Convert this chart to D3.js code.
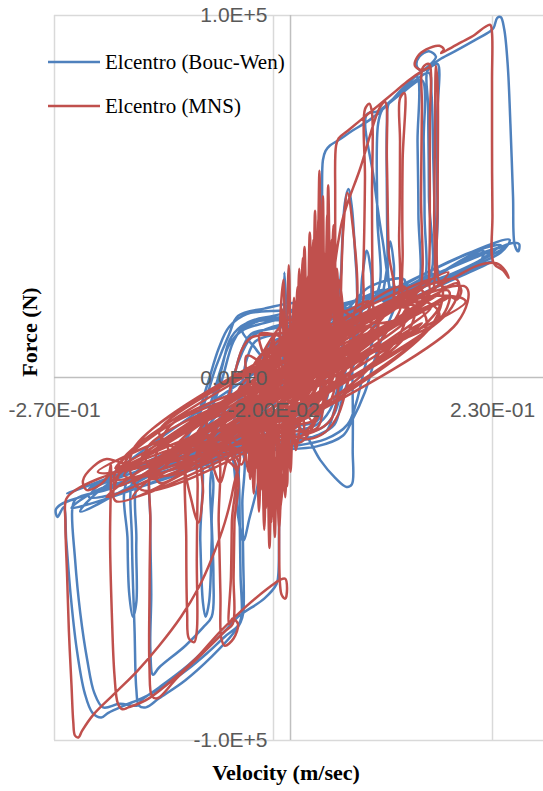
<!DOCTYPE html>
<html>
<head>
<meta charset="utf-8">
<script src="https://cdn.jsdelivr.net/npm/d3@7"></script>
<style>
  body { margin: 0; background: #fff; }
  svg { display: block; }
</style>
</head>
<body>
<div id="chart"></div>
<script>
// axis ticks (velocity in m/sec, force in kN)
const xTicks = [-0.27, -0.02, 0.23];
const xTickLabels = ["-2.70E-01", "-2.00E-02", "2.30E-01"];
const yTicks = [-100, 0, 100];
const yTickLabels = ["-1.0E+5", "0.0E+0", "1.0E+5"];
const seriesNames = ["Elcentro (Bouc-Wen)", "Elcentro (MNS)"];

// [velocity, force kN]
const boucWen = [
  [0.000,-2],[0.020,6],[0.040,12],[0.060,15],[0.050,8],[0.035,-3],[0.020,-9],[0.000,-11],[-0.030,-12],[-0.060,-14],
  [-0.045,-5],[-0.035,5],[-0.020,10],[0.010,12],[0.040,14],[0.060,15.5],
  [0.090,20],[0.080,14],[0.060,2],[0.045,-9],[0.030,-13],[0.000,-15],[-0.040,-16],[-0.090,-18],
  [-0.075,-8],[-0.060,4],[-0.045,11],[-0.020,14],[0.020,16],[0.060,18],
  [0.100,23],[0.120,25],[0.110,20],[0.080,8],[0.060,-5],[0.050,-13],[0.030,-16],[0.000,-18],[-0.040,-19],[-0.080,-20],[-0.120,-21],
  [-0.100,-14],[-0.080,-2],[-0.065,10],[-0.050,15],[-0.020,17],[0.020,19],[0.035,20],
  [0.050,19],[0.080,21],[0.075,12],[0.060,0],[0.050,-9],[0.040,-15],[0.010,-17],[-0.030,-18],[-0.070,-19],[-0.110,-19],
  [-0.095,-10],[-0.080,2],[-0.070,9],[-0.055,13],[-0.030,15],[0.010,17],[0.050,17],[0.065,15],[0.050,3],[0.040,-7],
  [0.030,-12],[0.000,-13.5],[-0.040,-14.5],[-0.085,-17],[-0.070,-6],[-0.058,6],[-0.045,12],[-0.020,13.5],[0.020,15],
  [0.060,18],[0.090,25],[0.130,27],[0.120,20],[0.100,8],[0.085,-4],[0.070,-12],[0.060,-16],[0.030,-19],[-0.020,-20],
  [-0.080,-21.5],[-0.140,-23],[-0.120,-17],[-0.100,-8],[-0.085,3],[-0.070,12],[-0.060,17],[-0.030,19],[0.010,20],
  [-0.130,-22],[-0.110,-13],[-0.095,-2],[-0.082,8],[-0.070,14],[-0.050,17.5],[-0.010,18.5],[0.030,19],[0.070,21],[0.110,24],
  [0.100,15],[0.085,3],[0.075,-7],[0.065,-13],[0.040,-17],[0.000,-19],[-0.050,-20],[-0.100,-21],
  [-0.070,-15],[-0.058,-5],[-0.050,5],[-0.040,10],[-0.015,12],[0.020,13],[0.045,14],[0.040,4],[0.032,-6],[0.020,-11],[-0.010,-12],[-0.040,-13],
  [-0.105,-19],[-0.090,-9],[-0.078,3],[-0.068,11],[-0.050,15],[0.000,16],[0.040,17.5],[0.075,19],[0.070,10],[0.060,-1],[0.050,-10],[0.035,-14],[0.000,-16],[-0.050,-17.5],[-0.105,-20],
  [0.030,12],[0.250,38],[0.240,34.5],[0.040,14.5],[0.050,12.5],[0.220,35],[0.210,30],[0.060,19],[0.070,15],[0.240,36.5],[0.200,34],[0.040,11],
  [-0.040,-15],[-0.250,-36],[-0.220,-31],[-0.050,-19],[-0.060,-16],[-0.240,-37],[-0.200,-28],[-0.040,-13],[-0.030,-16],[-0.230,-33],
  [0.060,17],[0.090,20.5],[0.125,24],[0.150,27],[0.180,30],[0.210,33],[0.235,35.5],[0.255,37.2],[0.261,36.8],[0.260,34.8],[0.256,36.5],
  [0.254,50],[0.251,70],[0.248,86],[0.244,96],[0.240,99.4],[0.236,99.2],[0.232,96.5],[0.228,95.5],
  [0.210,93],[0.190,90.3],[0.172,88],[0.160,86],[0.150,84.5],[0.144,86],[0.147,88.5],[0.158,90],[0.166,88.5],[0.158,86],
  [0.140,82.5],[0.125,79],[0.110,75],[0.090,71],[0.070,68],[0.055,65.5],[0.045,64],[0.040,62.5],[0.037,60],[0.036,50],[0.036,35],[0.037,20],[0.036,12],[0.030,4],[0.015,-6],
  [0.000,-12],[0.014,-14.5],[0.034,-22.8],[0.051,-27.7],[0.064,-30.2],[0.070,-29.5],[0.071,-20],[0.071,-6],[0.070,5],[0.068,10],[0.080,19],
  [0.110,22],[0.140,26],[0.163,28.5],[0.166,27],[0.165,40],[0.163,60],[0.161,78],[0.158,84],[0.140,81.5],[0.120,77.5],[0.112,75.5],[0.110,70],[0.110,50],[0.111,30],[0.112,22],
  [0.106,21],[0.110,30],[0.114,37.5],[0.118,31],[0.120,22],
  [0.140,25],[0.152,26.5],[0.153,45],[0.152,65],[0.150,82],[0.130,79],[0.100,73.5],[0.087,72.5],[0.095,55],[0.105,38],[0.119,21.5],
  [0.130,23],[0.145,25],[0.146,45],[0.145,65],[0.144,83],[0.125,78.5],[0.105,74],[0.100,70],[0.099,45],[0.100,24],
  [0.080,19],[0.075,30],[0.070,47],[0.066,52],[0.062,48],[0.058,30],[0.057,18],
  [0.075,17],[0.082,28],[0.087,35],[0.092,29],[0.096,19],
  [0.130,25],[0.158,27.5],[0.158,50],[0.157,75],[0.156,84.5],[0.162,86],[0.168,86.5],[0.167,70],[0.168,45],[0.170,29],[0.190,31.5],[0.220,34.5],[0.245,36],
  [0.210,31.5],[0.170,27],[0.130,22.5],[0.090,18],[0.050,12],[0.020,5],[0.000,-3],
  [0.040,10],[0.100,19],[0.160,26],[0.200,29.5],[0.230,32],[0.190,27.5],[0.140,22],[0.080,15],[0.030,6],
  [-0.005,0],[-0.007,15],[-0.007,29],[-0.005,20],[-0.004,5],
  [-0.020,-8],[-0.060,-17],[-0.100,-21.5],[-0.150,-25.5],[-0.200,-30],[-0.240,-33],[-0.262,-35],[-0.268,-36.5],[-0.266,-38.5],[-0.259,-35.8],
  [-0.256,-45],[-0.251,-60],[-0.244,-75],[-0.235,-87],[-0.226,-92.5],[-0.216,-93.8],[-0.208,-92.5],
  [-0.190,-90.5],[-0.170,-88.5],[-0.150,-86],[-0.120,-81],[-0.095,-76],[-0.075,-71.5],[-0.060,-68.5],[-0.056,-66],[-0.057,-55],[-0.058,-40],[-0.059,-28],[-0.062,-22],
  [-0.100,-23],[-0.160,-27],[-0.210,-31],[-0.245,-33.5],[-0.249,-36],[-0.246,-50],[-0.240,-65],[-0.232,-78],[-0.224,-87],[-0.214,-91],
  [-0.195,-90],[-0.175,-90.5],[-0.170,-89],[-0.150,-85.5],[-0.120,-80],[-0.095,-74.5],[-0.075,-70],[-0.060,-66],[-0.030,-61],[-0.016,-57],[-0.014,-54.5],[-0.013,-40],[-0.012,-25],[-0.010,-12],
  [-0.050,-17],[-0.120,-23],[-0.170,-27],[-0.180,-28.5],[-0.181,-45],[-0.178,-70],[-0.176,-86],[-0.173,-90.5],[-0.165,-91],[-0.150,-88.5],[-0.120,-83.5],[-0.090,-77],[-0.065,-70.5],[-0.057,-67.5],[-0.054,-65],[-0.054,-50],[-0.055,-35],[-0.057,-20],
  [-0.100,-20],[-0.140,-24],[-0.158,-26],[-0.160,-40],[-0.159,-60],[-0.160,-75],[-0.157,-82],[-0.150,-80],[-0.120,-74],[-0.100,-69],[-0.090,-66],[-0.088,-55],[-0.090,-40],[-0.092,-25],
  [-0.120,-22],[-0.185,-28],[-0.186,-45],[-0.184,-60],[-0.180,-66],[-0.176,-62],[-0.176,-45],[-0.172,-28],
  [-0.130,-24],[-0.105,-22],[-0.103,-45],[-0.100,-62],[-0.097,-66],[-0.093,-62],[-0.090,-45],[-0.088,-24],
  [-0.070,-20],[-0.060,-38],[-0.054,-45],[-0.048,-40],[-0.038,-22],
  [-0.080,-19],[-0.140,-23],[-0.200,-28],[-0.230,-30.5],[-0.180,-25],[-0.120,-19.5],[-0.060,-13],[-0.010,-4],
  [-0.060,-15],[-0.150,-22.5],[-0.255,-32],[-0.200,-27],[-0.100,-17],[-0.040,-10],
  [-0.020,0],[-0.040,8],[-0.055,13],[-0.030,16],[0.010,17],[0.050,19],[0.020,8],[0.000,-5]
];

const mns = [
  [0.000,-1],[-0.030,-4],[-0.070,-17],[-0.055,-8],[-0.045,2],[-0.030,7],[0.000,9],[0.030,11],[0.060,14],[0.050,5],[0.040,-5],[0.025,-12],[0.000,-13],[-0.040,-15],[-0.070,-17],
  [-0.100,-20],[-0.080,-12],[-0.065,0],[-0.055,8],[-0.045,11],[-0.020,12],[0.010,13],[0.040,16],[0.070,19],[0.090,21],[0.085,15],[0.070,3],[0.055,-10],[0.040,-15],[0.020,-17],[0.000,-16],[-0.030,-17],[-0.070,-19],[-0.100,-21],
  [-0.160,-24],[0.150,20],[0.150,24],[-0.150,-18],[-0.170,-22],[0.130,21],[0.160,22],[-0.130,-20],[-0.180,-27],[0.170,23],[0.120,16],[-0.120,-16],[-0.140,-23],[0.140,18],[0.100,19],[-0.100,-13],[-0.110,-19],[0.110,14],
  [-0.180,-29],[0.140,20],[0.155,14],[-0.150,-27],[-0.165,-20],[0.120,15],[0.135,22],[-0.120,-24],[-0.140,-18],[0.160,19],[0.110,10],[-0.100,-20],
  [-0.130,-26],[0.090,14],[0.100,6],[-0.080,-21],[-0.095,-12],[0.125,20],[0.080,4],[-0.060,-18],[-0.075,-9],[0.070,13],[0.060,1],[-0.050,-15],
  [-0.040,-4],[0.050,10],[0.040,-2],[-0.070,-20],[-0.090,-15],[0.150,21],[0.170,17],[-0.110,-22],[-0.200,-28],[0.100,15],[0.085,9],[-0.085,-17],
  [-0.065,-13],[0.065,8],[0.075,16],[-0.045,-10],[-0.030,-12],[0.095,11],[0.180,22],[-0.150,-22],
  [-0.210,-33],[0.180,18],[0.190,27],[-0.190,-22],[-0.200,-30],[0.170,26],[0.160,14],[-0.170,-31],[-0.180,-20],[0.150,22],[0.200,21],[-0.220,-26],
  [-0.160,-24],[0.130,11],[0.140,24],[-0.150,-29],[-0.140,-14],[0.170,16],[0.180,24],[-0.130,-25],[-0.190,-27],[0.120,19],[0.160,27],[-0.170,-17],
  [-0.200,-34],[0.110,8],[0.150,15],[-0.120,-20],[-0.150,-15],[0.200,25],[0.190,15],[-0.180,-33],[-0.110,-18],[0.130,25],[0.120,10],[-0.160,-28],
  [-0.140,-21],[0.170,20],[0.140,12],[-0.130,-12],[-0.200,-25],[0.180,29],[0.110,13],[-0.100,-22],
  [-0.060,-12],[0.050,12],[0.040,-8],[-0.050,6],[-0.020,-14],[0.060,3],[0.010,15],[-0.040,-10],[0.030,-14],[0.020,14],[-0.060,-4],[0.050,8],
  [-0.010,-12],[0.000,12],[-0.030,2],[0.040,16],[0.045,-12],[-0.045,-16],[-0.015,10],[0.060,10],[0.025,-6],[-0.055,-14],[0.010,6],[-0.025,-16],
  [0.035,4],[-0.035,12],[0.015,-15],[-0.005,8],
  [-0.050,-18],[-0.030,5],[-0.045,-6],[-0.020,-16],[0.010,18],[-0.010,-8],[0.030,22],[0.020,-5],[0.050,24],[0.045,4],[-0.040,-20],[-0.025,8],
  [0.005,-14],[0.040,20],[0.015,-10],[0.055,15],[-0.035,-14],[-0.015,12],[0.025,-12],[0.035,12],[-0.030,-19],[0.000,-3],[0.045,18],[-0.005,10],
  [-0.045,-12],[0.020,20],[0.030,-2],[-0.020,2],[0.010,-18],[0.050,6],[-0.040,0],[0.000,16],[0.040,-6],[-0.010,-20],[0.025,10],[-0.050,-10],
  [0.035,26],[0.010,-6],
  [-0.010,3],[-0.008,27],[-0.005,5],[-0.002,31],[0.001,4],[0.004,22],[0.007,4],[0.010,30],[0.013,6],[0.016,36],[0.019,8],[0.022,40],[0.025,9],[0.028,46],[0.030,10],[0.033,57],[0.035,12],[0.037,50],[0.039,12],[0.042,45],[0.044,13],[0.047,38],[0.050,14],[0.053,30],[0.056,15],[0.060,40],[0.065,51],[0.070,44],[0.075,20],
  [0.060,12],[0.045,25],[0.040,8],[0.030,28],[0.025,5],[0.018,24],[0.012,2],[0.006,18],[0.000,0],
  [0.002,6],[0.003,18],[0.005,7],[0.008,25],[0.011,9],[0.014,33],[0.017,10],[0.020,28],[0.023,12],[0.026,38],[0.029,13],[0.032,44],[0.034,14],[0.038,35],[0.041,15],[0.043,53],[0.046,16],[0.049,42],[0.052,17],[0.055,27],[0.058,16],
  [0.045,14],[0.040,24],[0.035,10],[0.030,33],[0.026,8],[0.021,21],[0.015,5],[0.011,26],[0.005,3],[0.000,14],[-0.005,0],[-0.010,19],[-0.015,-3],[-0.020,12],[-0.025,-5],
  [-0.050,-10],[-0.048,-26],[-0.045,-12],[-0.042,-32],[-0.039,-14],[-0.036,-37],[-0.033,-15],[-0.030,-42],[-0.027,-16],[-0.024,-47],[-0.021,-17],[-0.018,-44],[-0.015,-15],[-0.012,-38],[-0.009,-13],[-0.006,-33],[-0.003,-12],[0.000,-26],[0.003,-10],[0.006,-20],[0.010,-8],
  [0.000,-5],[-0.010,-22],[-0.020,-8],[-0.028,-30],[-0.035,-10],[-0.040,-20],[-0.050,-8],
  [-0.055,-12],[-0.052,-22],[-0.049,-13],[-0.046,-28],[-0.043,-15],[-0.040,-25],[-0.037,-14],[-0.034,-31],[-0.031,-16],[-0.028,-36],[-0.025,-17],[-0.022,-40],[-0.020,-16],[-0.017,-35],[-0.014,-13],[-0.011,-29],[-0.008,-12],[-0.005,-24],[-0.002,-10],[0.002,-18],[0.005,-6],
  [0.000,-8],[-0.004,-30],[-0.008,-9],[-0.013,-42],[-0.017,-11],[-0.021,-30],[-0.026,-13],[-0.029,-23],[-0.032,-12],[-0.036,-27],[-0.040,-13],
  [-0.070,-15],[-0.062,-22],[-0.056,-24],[-0.050,-20],[-0.045,-13],
  [-0.090,-18],[-0.085,-27],[-0.080,-29],[-0.075,-25],[-0.070,-18],
  [-0.118,-20],[-0.112,-35],[-0.105,-40],[-0.100,-32],[-0.098,-20],
  [0.050,12],[0.100,17.5],[0.150,23],[0.190,28],[0.215,31],[0.235,31.5],[0.245,29.5],[0.249,27.5],[0.243,29.5],[0.232,31.5],[0.2305,45],[0.230,65],[0.230,82],[0.230,95],[0.228,97.3],[0.222,96.7],
  [0.210,94.5],[0.195,92.5],[0.180,90.5],[0.172,89.5],[0.175,90.5],[0.170,91.5],[0.155,90.5],[0.145,88.5],[0.142,86],[0.150,84.8],[0.160,85.8],[0.150,84.5],
  [0.135,82],[0.120,79],[0.100,75],[0.080,71],[0.065,68],[0.055,66],[0.052,64],[0.051,50],[0.051,30],[0.050,15],[0.045,8],
  [0.080,18],[0.083,30],[0.085,55],[0.085,74],[0.090,75.5],[0.093,73],[0.093,50],[0.094,25],[0.096,19],
  [0.120,21],[0.124,40],[0.125,65],[0.125,77],[0.130,78.5],[0.128,60],[0.128,35],[0.130,22],
  [0.140,23],[0.148,25],[0.149,50],[0.150,75],[0.151,85.5],[0.158,86.5],[0.159,70],[0.159,40],[0.160,24],[0.163,24.5],[0.164,45],[0.165,70],[0.166,86],[0.168,80],[0.168,50],[0.169,27],
  [0.175,25],[0.190,26],[0.195,24],[0.190,21.5],[0.180,22.5],[0.160,20],
  [0.100,15],[0.055,20],[0.057,41],[0.080,58],[0.102,74.5],[0.108,76],[0.110,60],[0.112,35],[0.115,20],
  [0.000,-3],[-0.050,-10],[-0.100,-17],[-0.150,-22],[-0.190,-25.5],[-0.220,-28],[-0.245,-31],[-0.256,-33.5],[-0.257,-40],[-0.255,-55],[-0.253,-70],[-0.250,-85],[-0.248,-95],[-0.246,-98.8],[-0.242,-99.3],[-0.238,-97.5],
  [-0.225,-93],[-0.200,-87],[-0.175,-81],[-0.150,-74],[-0.125,-66],[-0.105,-58],[-0.090,-50],[-0.075,-40],[-0.065,-30],[-0.060,-20],
  [-0.120,-20],[-0.180,-24],[-0.200,-23],[-0.210,-22.5],[-0.225,-24.5],[-0.237,-28.5],[-0.233,-31],[-0.220,-30],[-0.208,-27],[-0.205,-24],
  [-0.205,-28],[-0.206,-45],[-0.204,-65],[-0.201,-82],[-0.197,-90],[-0.192,-91.5],[-0.185,-91],[-0.165,-89],[-0.140,-84.5],[-0.110,-78],[-0.080,-70],[-0.050,-63],[-0.025,-58],[-0.012,-55.8],[-0.006,-55.5],[-0.004,-58],[-0.006,-61],[-0.010,-60],[-0.012,-57],[-0.013,-40],[-0.012,-25],
  [-0.060,-14],[-0.140,-22],[-0.158,-24],[-0.160,-40],[-0.161,-60],[-0.161,-80],[-0.158,-88],[-0.152,-88.5],[-0.130,-83],[-0.100,-76],[-0.075,-70],[-0.066,-68],[-0.065,-55],[-0.064,-40],[-0.063,-25],
  [-0.110,-20],[-0.118,-22],[-0.119,-45],[-0.118,-65],[-0.116,-72],[-0.110,-73],[-0.107,-70],[-0.107,-50],[-0.106,-30],[-0.105,-20],
  [-0.085,-20],[-0.082,-40],[-0.080,-60],[-0.079,-72],[-0.075,-74],[-0.065,-72],[-0.060,-68],[-0.066,-66.5],[-0.070,-68],[-0.068,-55],[-0.067,-40],[-0.066,-22],
  [-0.120,-19],[-0.200,-26],[-0.150,-20],[-0.080,-13],[-0.020,-3],[0.050,8],[0.000,0]
];

const totalWidth = 543;
const totalHeight = 791;
const plot = { left: 54, top: 15, bottom: 740 };

const x = d3.scaleLinear().domain([-0.27, 0.48]).range([plot.left, plot.left + 0.75 * 876]);
const y = d3.scaleLinear().domain([-100, 100]).range([plot.bottom, plot.top]);

const svg = d3.select("#chart")
  .append("svg")
  .attr("width", totalWidth)
  .attr("height", totalHeight);

// Gridlines
const vGrid = svg.append("g")
  .attr("transform", `translate(0,${plot.bottom})`)
  .call(d3.axisBottom(x).tickValues(xTicks).tickSize(-(plot.bottom - plot.top)).tickFormat(""));
const hGrid = svg.append("g")
  .attr("transform", `translate(${plot.left},0)`)
  .call(d3.axisLeft(y).tickValues([-100, 100]).tickSize(-(totalWidth - plot.left)).tickFormat(""));
[vGrid, hGrid].forEach(g => {
  g.select(".domain").remove();
  g.selectAll("line").attr("stroke", "#d9d9d9").attr("stroke-width", 1.5);
});

// Axis lines through zero
svg.append("line")
  .attr("x1", x(0)).attr("x2", x(0))
  .attr("y1", plot.top).attr("y2", plot.bottom)
  .attr("stroke", "#bfbfbf").attr("stroke-width", 1.5);
svg.append("line")
  .attr("x1", plot.left).attr("x2", totalWidth)
  .attr("y1", y(0)).attr("y2", y(0))
  .attr("stroke", "#bfbfbf").attr("stroke-width", 1.5);

// Series
const line = d3.line()
  .x(d => x(d[0]))
  .y(d => y(d[1]))
  .curve(d3.curveCatmullRom.alpha(0.5));

svg.append("path")
  .datum(boucWen)
  .attr("fill", "none")
  .attr("stroke", "#4f81bd")
  .attr("stroke-width", 2.5)
  .attr("stroke-linejoin", "round")
  .attr("d", line);

svg.append("path")
  .datum(mns)
  .attr("fill", "none")
  .attr("stroke", "#c0504d")
  .attr("stroke-width", 2.5)
  .attr("stroke-linejoin", "round")
  .attr("d", line);

// Tick labels
const xAxis = svg.append("g")
  .attr("transform", `translate(0,${y(0)})`)
  .call(d3.axisBottom(x).tickValues(xTicks).tickSize(0).tickPadding(25)
    .tickFormat((d, i) => xTickLabels[i]));
const yAxis = svg.append("g")
  .attr("transform", `translate(${x(0)},0)`)
  .call(d3.axisLeft(y).tickValues(yTicks).tickSize(0).tickPadding(23)
    .tickFormat((d, i) => yTickLabels[i]));
[xAxis, yAxis].forEach(g => {
  g.select(".domain").remove();
  g.selectAll("text")
    .attr("fill", "#595959")
    .style("font-family", "'Liberation Sans', Arial, sans-serif")
    .style("font-size", "21px");
});

// Legend
const colors = ["#4f81bd", "#c0504d"];
seriesNames.forEach((name, i) => {
  const ly = 62 + i * 44;
  svg.append("line")
    .attr("x1", 48).attr("x2", 100)
    .attr("y1", ly).attr("y2", ly)
    .attr("stroke", colors[i]).attr("stroke-width", 2.5);
  svg.append("text")
    .attr("x", 105).attr("y", ly)
    .attr("dy", "0.33em")
    .style("font-family", "'Liberation Serif', 'Times New Roman', serif")
    .style("font-size", "21px")
    .text(name);
});

// Axis titles
svg.append("text")
  .attr("transform", "translate(37,332) rotate(-90)")
  .attr("text-anchor", "middle")
  .style("font-family", "'Liberation Serif', 'Times New Roman', serif")
  .style("font-size", "22px")
  .style("font-weight", "bold")
  .text("Force (N)");

svg.append("text")
  .attr("x", 286).attr("y", 780)
  .attr("text-anchor", "middle")
  .style("font-family", "'Liberation Serif', 'Times New Roman', serif")
  .style("font-size", "22px")
  .style("font-weight", "bold")
  .text("Velocity (m/sec)");
</script>
</body>
</html>
